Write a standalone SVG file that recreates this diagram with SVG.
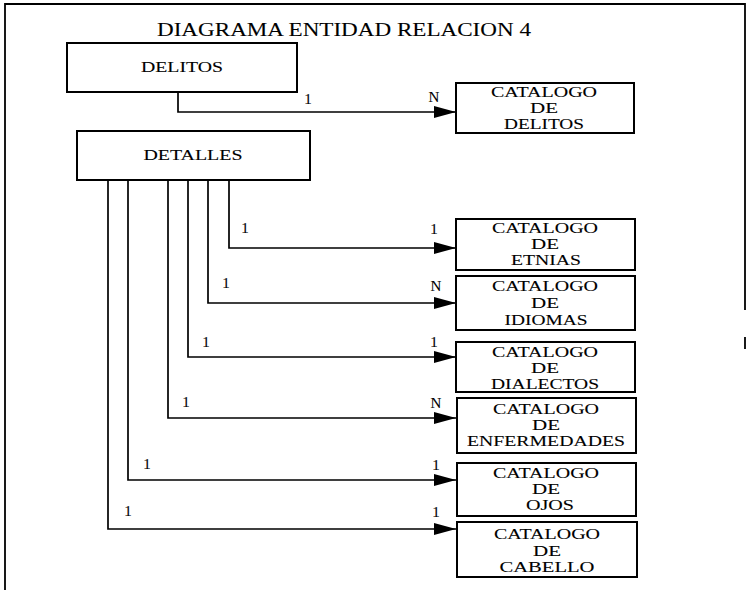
<svg xmlns="http://www.w3.org/2000/svg" width="747" height="590" viewBox="0 0 747 590">
<style>
  .frame { fill: none; stroke: #000; stroke-width: 1.8; }
  .box { fill: #fff; stroke: #000; stroke-width: 2; }
  .conn { fill: none; stroke: #000; stroke-width: 1.7; }
  text { font-family: "Liberation Serif", "Times New Roman", serif; fill: #000; stroke: #000; stroke-width: 0.1; }
  .t { font-size: 15.5px; text-anchor: middle; }
  .lbl { font-size: 15px; text-anchor: middle; }
  .title { font-size: 19px; text-anchor: middle; }
</style>
<defs>
  <marker id="arrow" markerUnits="userSpaceOnUse" markerWidth="24" markerHeight="14" refX="22" refY="6" orient="auto">
    <path d="M0,0 L22,6 L0,12 Z" fill="#000"/>
  </marker>
</defs>
<rect x="0" y="0" width="747" height="590" fill="#fff"/>
<g id="frame">
  <path class="frame" d="M5,590 L5,4 L745,4 L745,310"/>
  <path class="frame" d="M745,337 L745,349"/>
</g>
<text class="title" x="344" y="36" textLength="374" lengthAdjust="spacingAndGlyphs">DIAGRAMA ENTIDAD RELACION 4</text>

<g id="connectors">
  <path class="conn" d="M178,92 L178,112 L456,112" marker-end="url(#arrow)"/>
  <path class="conn" d="M229,180 L229,248 L456,248" marker-end="url(#arrow)"/>
  <path class="conn" d="M208,180 L208,303 L456,303" marker-end="url(#arrow)"/>
  <path class="conn" d="M188,180 L188,357 L456,357" marker-end="url(#arrow)"/>
  <path class="conn" d="M168,180 L168,418 L456,418" marker-end="url(#arrow)"/>
  <path class="conn" d="M128,180 L128,480 L456,480" marker-end="url(#arrow)"/>
  <path class="conn" d="M108,180 L108,529 L456,529" marker-end="url(#arrow)"/>
  <text class="lbl" x="308" y="104">1</text>
  <text class="lbl" x="434" y="102">N</text>
  <text class="lbl" x="245" y="233">1</text>
  <text class="lbl" x="434" y="234">1</text>
  <text class="lbl" x="226" y="288">1</text>
  <text class="lbl" x="436" y="291">N</text>
  <text class="lbl" x="206" y="347">1</text>
  <text class="lbl" x="434" y="347">1</text>
  <text class="lbl" x="186" y="407">1</text>
  <text class="lbl" x="436" y="408">N</text>
  <text class="lbl" x="147" y="469">1</text>
  <text class="lbl" x="436" y="470">1</text>
  <text class="lbl" x="128" y="516">1</text>
  <text class="lbl" x="436" y="517">1</text>
</g>

<g id="delitos">
  <rect class="box" x="67" y="43" width="230" height="49"/>
  <text class="t" x="182" y="72" textLength="82" lengthAdjust="spacingAndGlyphs">DELITOS</text>
</g>
<g id="detalles">
  <rect class="box" x="77" y="131" width="233" height="49"/>
  <text class="t" x="193" y="160" textLength="99" lengthAdjust="spacingAndGlyphs">DETALLES</text>
</g>

<g id="cat-delitos">
  <rect class="box" x="456" y="83" width="178" height="50"/>
  <text class="t" x="544" y="97" textLength="106" lengthAdjust="spacingAndGlyphs">CATALOGO</text>
  <text class="t" x="544" y="113" textLength="28" lengthAdjust="spacingAndGlyphs">DE</text>
  <text class="t" x="544" y="129" textLength="80" lengthAdjust="spacingAndGlyphs">DELITOS</text>
</g>
<g id="cat-etnias">
  <rect class="box" x="456" y="219" width="179" height="51"/>
  <text class="t" x="545" y="233" textLength="106" lengthAdjust="spacingAndGlyphs">CATALOGO</text>
  <text class="t" x="545" y="249" textLength="28" lengthAdjust="spacingAndGlyphs">DE</text>
  <text class="t" x="546" y="265" textLength="70" lengthAdjust="spacingAndGlyphs">ETNIAS</text>
</g>
<g id="cat-idiomas">
  <rect class="box" x="456" y="276" width="179" height="54"/>
  <text class="t" x="545" y="291" textLength="106" lengthAdjust="spacingAndGlyphs">CATALOGO</text>
  <text class="t" x="545" y="308" textLength="28" lengthAdjust="spacingAndGlyphs">DE</text>
  <text class="t" x="546" y="325" textLength="83" lengthAdjust="spacingAndGlyphs">IDIOMAS</text>
</g>
<g id="cat-dialectos">
  <rect class="box" x="456" y="342" width="179" height="50"/>
  <text class="t" x="545" y="357" textLength="106" lengthAdjust="spacingAndGlyphs">CATALOGO</text>
  <text class="t" x="545" y="373" textLength="28" lengthAdjust="spacingAndGlyphs">DE</text>
  <text class="t" x="545" y="389" textLength="108" lengthAdjust="spacingAndGlyphs">DIALECTOS</text>
</g>
<g id="cat-enfermedades">
  <rect class="box" x="457" y="398" width="179" height="55"/>
  <text class="t" x="546" y="414" textLength="106" lengthAdjust="spacingAndGlyphs">CATALOGO</text>
  <text class="t" x="546" y="430" textLength="28" lengthAdjust="spacingAndGlyphs">DE</text>
  <text class="t" x="546" y="446" textLength="158" lengthAdjust="spacingAndGlyphs">ENFERMEDADES</text>
</g>
<g id="cat-ojos">
  <rect class="box" x="457" y="463" width="179" height="53"/>
  <text class="t" x="546" y="478" textLength="106" lengthAdjust="spacingAndGlyphs">CATALOGO</text>
  <text class="t" x="546" y="494" textLength="28" lengthAdjust="spacingAndGlyphs">DE</text>
  <text class="t" x="550" y="510" textLength="48" lengthAdjust="spacingAndGlyphs">OJOS</text>
</g>
<g id="cat-cabello">
  <rect class="box" x="457" y="522" width="180" height="55"/>
  <text class="t" x="547" y="539" textLength="106" lengthAdjust="spacingAndGlyphs">CATALOGO</text>
  <text class="t" x="547" y="556" textLength="28" lengthAdjust="spacingAndGlyphs">DE</text>
  <text class="t" x="547" y="572" textLength="95" lengthAdjust="spacingAndGlyphs">CABELLO</text>
</g>
</svg>
